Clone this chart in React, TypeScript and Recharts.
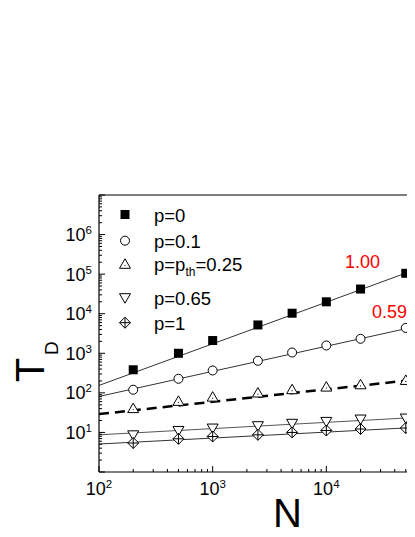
import React from 'react';
import { ComposedChart, Line, Scatter, XAxis, YAxis } from 'recharts';

// system sizes N and measured times T_D for each p
const N = [200, 500, 1000, 2500, 5000, 10000, 20000, 50000];
const T_P0 = [383, 1000, 2100, 5200, 10300, 20000, 42000, 105000];
const T_P01 = [120, 227, 368, 646, 1047, 1574, 2323, 4370];
const T_P025 = [40, 61, 78, 99, 120, 140, 160, 206];
const T_P065 = [8.7, 11.2, 12.9, 14.8, 17, 19, 21.8, 23.1];
const T_P1 = [5.4, 6.9, 7.9, 8.7, 10, 11.2, 12.2, 12.9];

// power-law fit lines, read at the two ends
const FIT_N = [100, 100000];
const FIT_P0 = [154, 220000];
const FIT_P01 = [81, 6500];
const FIT_P025 = [29, 252];
const FIT_P065 = [8.7, 25.8];
const FIT_P1 = [5.1, 14.4];

const SLOPE_LABELS = ['1.00', '0.59'];
const LEGEND = ['p=0', 'p=0.1', 'p=p_th=0.25', 'p=0.65', 'p=1'];

const X_TICKS: number[] = [];
for (let k = 2; k <= 4; k++) for (let m = 1; m <= 9; m++) X_TICKS.push(m * 10 ** k);
X_TICKS.push(100000);
const Y_TICKS: number[] = [];
for (let k = 0; k <= 6; k++) for (let m = 1; m <= 9; m++) Y_TICKS.push(m * 10 ** k);
Y_TICKS.push(10000000);

const pts = (xs: number[], ys: number[]) => xs.map((x, i) => ({ x, y: ys[i] }));

const FONT = '"Liberation Sans", Arial, sans-serif';

const isMajor = (v: number) => {
  const l = Math.log10(v);
  return Math.abs(l - Math.round(l)) < 1e-6;
};

const Pow = ({ x, y, e, anchor }: any) => (
  <text x={x} y={y} textAnchor={anchor} fontSize={18} fontFamily={FONT} fill="#000">
    10<tspan dy={-7} fontSize={11.5}>{e}</tspan>
  </text>
);

const XTick = (props: any) => {
  const { x, y, payload, top } = props;
  const v = payload.value;
  const major = isMajor(v);
  const len = major ? 6 : 3;
  const e = Math.round(Math.log10(v));
  return (
    <g>
      <line x1={x} x2={x} y1={y} y2={top ? y + len : y - len} stroke="#000" strokeWidth={1} />
      {major && !top && e <= 4 && <Pow x={x} y={y + 23} e={e} anchor="middle" />}
    </g>
  );
};

const YTick = (props: any) => {
  const { x, y, payload } = props;
  const v = payload.value;
  const major = isMajor(v);
  const len = major ? 6 : 3;
  const e = Math.round(Math.log10(v));
  return (
    <g>
      <line x1={x} x2={x + len} y1={y} y2={y} stroke="#000" strokeWidth={1} />
      {major && e >= 1 && e <= 6 && <Pow x={x - 7} y={y + 6.5} e={e} anchor="end" />}
    </g>
  );
};

const Square = ({ cx, cy }: any) => <rect x={cx - 4.5} y={cy - 4.5} width={9} height={9} fill="#000" />;
const Circle = ({ cx, cy }: any) => <circle cx={cx} cy={cy} r={4.5} fill="#fff" stroke="#000" strokeWidth={1} />;
const TriUp = ({ cx, cy }: any) => (
  <g>
    <polygon points={`${cx},${cy - 5.5} ${cx - 5.5},${cy + 4} ${cx + 5.5},${cy + 4}`} fill="#fff" stroke="#000" strokeWidth={1} />
    <circle cx={cx} cy={cy + 1} r={0.6} fill="#000" />
  </g>
);
const TriDown = ({ cx, cy }: any) => (
  <polygon points={`${cx},${cy + 5.5} ${cx - 5.5},${cy - 4} ${cx + 5.5},${cy - 4}`} fill="#fff" stroke="#000" strokeWidth={1} />
);
const Diamond = ({ cx, cy }: any) => (
  <g>
    <polygon points={`${cx},${cy - 5.5} ${cx + 5.5},${cy} ${cx},${cy + 5.5} ${cx - 5.5},${cy}`} fill="#fff" stroke="#000" strokeWidth={1} />
    <line x1={cx - 5.5} x2={cx + 5.5} y1={cy} y2={cy} stroke="#000" strokeWidth={1} />
    <line x1={cx} x2={cx} y1={cy - 5.5} y2={cy + 5.5} stroke="#000" strokeWidth={1} />
  </g>
);

const MARKERS = [Square, Circle, TriUp, TriDown, Diamond];
const LEGEND_ROWS = [206.5, 232.7, 256.3, 289.7, 314.7];

const W = 460;
const H = 529;

export default function App() {
  return (
    <div style={{ position: 'relative', width: 407, height: H, overflow: 'hidden' }}>
      <ComposedChart width={W} height={H} margin={{ top: 177, right: 28, bottom: 0, left: 0 }}>
        <XAxis
          dataKey="x"
          type="number"
          scale="log"
          domain={[100, 100000]}
          allowDataOverflow
          ticks={X_TICKS}
          interval={0}
          tickSize={0}
          tickMargin={0}
          tickLine={false}
          height={65}
          axisLine={{ stroke: '#000', strokeWidth: 1.2 }}
          tick={<XTick />}
        />
        <XAxis
          xAxisId="top"
          orientation="top"
          type="number"
          scale="log"
          domain={[100, 100000]}
          allowDataOverflow
          ticks={X_TICKS}
          interval={0}
          tickSize={0}
          tickMargin={0}
          tickLine={false}
          height={10}
          axisLine={{ stroke: '#000', strokeWidth: 1.2 }}
          tick={<XTick top />}
        />
        <YAxis
          dataKey="y"
          type="number"
          scale="log"
          domain={[1, 10000000]}
          allowDataOverflow
          ticks={Y_TICKS}
          interval={0}
          tickSize={0}
          tickMargin={0}
          tickLine={false}
          width={91}
          axisLine={{ stroke: '#000', strokeWidth: 1.2 }}
          tick={<YTick />}
        />
        <Line data={pts(FIT_N, FIT_P0)} dataKey="y" stroke="#333" strokeWidth={1} dot={false} isAnimationActive={false} />
        <Line data={pts(FIT_N, FIT_P01)} dataKey="y" stroke="#333" strokeWidth={1} dot={false} isAnimationActive={false} />
        <Line data={pts(FIT_N, FIT_P025)} dataKey="y" stroke="#000" strokeWidth={2.5} strokeDasharray="10 6" dot={false} isAnimationActive={false} />
        <Line data={pts(FIT_N, FIT_P065)} dataKey="y" stroke="#555" strokeWidth={1} dot={false} isAnimationActive={false} />
        <Line data={pts(FIT_N, FIT_P1)} dataKey="y" stroke="#333" strokeWidth={1} dot={false} isAnimationActive={false} />
        <Scatter data={pts(N, T_P0)} dataKey="y" shape={<Square />} isAnimationActive={false} />
        <Scatter data={pts(N, T_P01)} dataKey="y" shape={<Circle />} isAnimationActive={false} />
        <Scatter data={pts(N, T_P025)} dataKey="y" shape={<TriUp />} isAnimationActive={false} />
        <Scatter data={pts(N, T_P065)} dataKey="y" shape={<TriDown />} isAnimationActive={false} />
        <Scatter data={pts(N, T_P1)} dataKey="y" shape={<Diamond />} isAnimationActive={false} />
      </ComposedChart>

      {/* titles, legend and slope labels */}
      <svg width={W} height={H} style={{ position: 'absolute', left: 0, top: 0, pointerEvents: 'none' }} fontFamily={FONT}>
        <text x={36} y={362} fontSize={40} textAnchor="middle" transform="rotate(-90 36 362)">T</text>
        <text x={50} y={347} fontSize={19} textAnchor="start" transform="rotate(-90 50 347)">D</text>
        <text x={279.5} y={519} fontSize={40} textAnchor="middle">N</text>

        {LEGEND.map((label, i) => {
          const M = MARKERS[i];
          const y = LEGEND_ROWS[i];
          const parts = label.split('_th');
          return (
            <g key={label}>
              <M cx={117} cy={y} />
              <text x={146} y={y + 7} fontSize={18.5}>
                {parts.length > 1 ? (
                  <>
                    {parts[0]}
                    <tspan dy={5} fontSize={12}>th</tspan>
                    <tspan dy={-5}>{parts[1]}</tspan>
                  </>
                ) : (
                  label
                )}
              </text>
            </g>
          );
        })}

        <text x={337} y={260} fontSize={18} fill="#ff0000">{SLOPE_LABELS[0]}</text>
        <text x={364} y={310} fontSize={18} fill="#ff0000">{SLOPE_LABELS[1]}</text>
      </svg>
    </div>
  );
}
